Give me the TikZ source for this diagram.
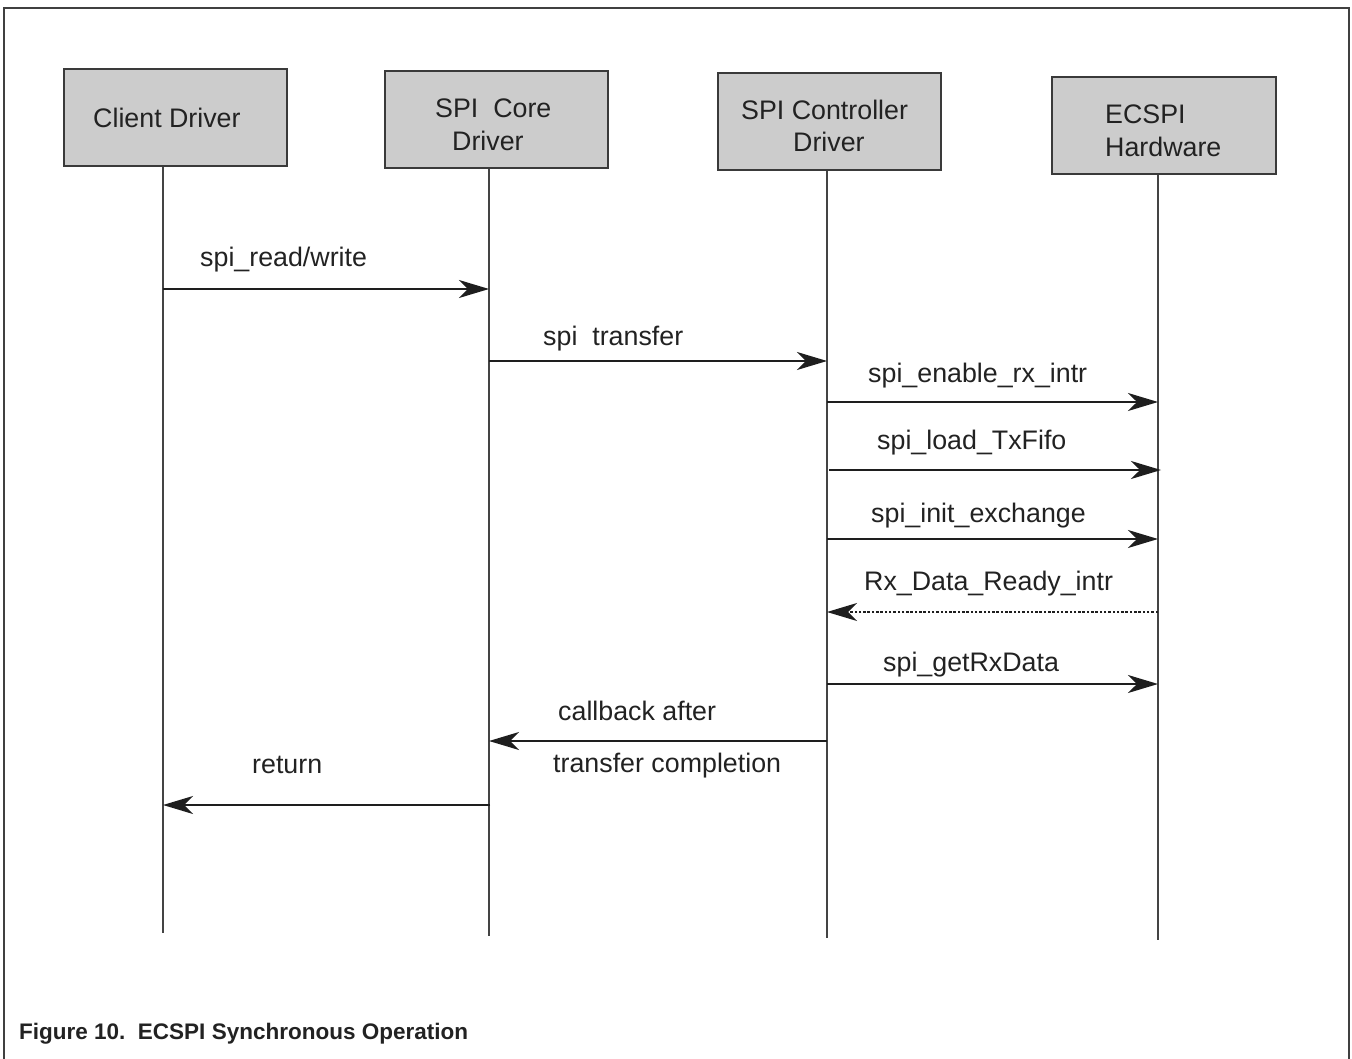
\documentclass[tikz,border=0pt]{standalone}
\usepackage{fontspec}
\setmainfont{Liberation Sans}
\usetikzlibrary{arrows.meta}
\definecolor{boxfill}{HTML}{CCCCCC}
\definecolor{boxline}{HTML}{3A3A3A}
\definecolor{frameline}{HTML}{404040}
\definecolor{txt}{HTML}{222222}
\definecolor{arrowc}{HTML}{1E1E1E}
\definecolor{lifec}{HTML}{444444}
\tikzset{
  actorbox/.style={draw=boxline, fill=boxfill, line width=2.2pt, minimum width=223pt, minimum height=97pt, inner sep=0pt},
  lbl/.style={anchor=base west, inner sep=0pt, text=txt, font=\fontsize{26.8}{31}\selectfont},
  life/.style={draw=lifec, line width=1.8pt},
  msg/.style={draw=arrowc, line width=1.8pt, -{Stealth[length=30pt, width=18pt, inset=9pt]}},
  reply/.style={draw=arrowc, line width=1.3pt, dash pattern=on 2.5pt off 1.8pt, -{Stealth[length=30pt, width=18pt, inset=9pt]}},
}
\begin{document}
\begin{tikzpicture}[x=1pt, y=-1pt]
\useasboundingbox (0,0) rectangle (1352,1059);
% frame (open at bottom)
\draw[frameline, line width=2.6pt] (4,1059) -- (4,8) -- (1349,8) -- (1349,1059);

% actor boxes
\node[actorbox] (b1) at (175.5,117.5) {};
\node[actorbox] (b2) at (496.5,119.5) {};
\node[actorbox] (b3) at (829.5,121.5) {};
\node[actorbox, minimum width=224pt] (b4) at (1164,125.5) {};

% box texts
\node[lbl] (t1) at (93,128) {Client Driver};
\node[lbl] (t2a) at (435,118) {SPI\ \ Core};
\node[lbl] (t2b) at (452,151) {Driver};
\node[lbl] (t3a) at (741,120) {SPI Controller};
\node[lbl] (t3b) at (793,152) {Driver};
\node[lbl] (t4a) at (1105,124) {ECSPI};
\node[lbl] (t4b) at (1105,157) {Hardware};

% lifeline ends
\coordinate (l1) at (163,933);
\coordinate (l2) at (489,936);
\coordinate (l3) at (827,938);
\coordinate (l4) at (1158,940);
\draw[life] (b1.south -| l1) -- (l1);
\draw[life] (b2.south -| l2) -- (l2);
\draw[life] (b3.south -| l3) -- (l3);
\draw[life] (b4.south -| l4) -- (l4);

% message end points
\coordinate (m1s) at (163,289);  \coordinate (m1e) at (489,289);
\coordinate (m2s) at (489,361);  \coordinate (m2e) at (827,361);
\coordinate (m3s) at (827,402);  \coordinate (m3e) at (1158,402);
\coordinate (m4s) at (829,470);  \coordinate (m4e) at (1161,470);
\coordinate (m5s) at (827,539);  \coordinate (m5e) at (1158,539);
\coordinate (m6s) at (1158,612); \coordinate (m6e) at (827,612);
\coordinate (m7s) at (827,684);  \coordinate (m7e) at (1158,684);
\coordinate (m8s) at (827,741);  \coordinate (m8e) at (489,741);
\coordinate (m9s) at (490,805);  \coordinate (m9e) at (163,805);

\draw[msg] (m1s) -- (m1e);
\draw[msg] (m2s) -- (m2e);
\draw[msg] (m3s) -- (m3e);
\draw[msg] (m4s) -- (m4e);
\draw[msg] (m5s) -- (m5e);
\draw[reply] (m6s) -- (m6e);
\draw[msg] (m7s) -- (m7e);
\draw[msg] (m8s) -- (m8e);
\draw[msg] (m9s) -- (m9e);

% message labels
\node[lbl] (k1) at (200,267) {spi\_read/write};
\node[lbl] (k2) at (543,345) {spi\ \ transfer};
\node[lbl] (k3) at (868,382) {spi\_enable\_rx\_intr};
\node[lbl] (k4) at (877,449) {spi\_load\_TxFifo};
\node[lbl] (k5) at (871,522) {spi\_init\_exchange};
\node[lbl] (k6) at (864,590) {Rx\_Data\_Ready\_intr};
\node[lbl] (k7) at (883,671) {spi\_getRxData};
\node[lbl] (k8a) at (558,720) {callback after};
\node[lbl] (k8b) at (553,772) {transfer completion};
\node[lbl] (k9) at (252,773) {return};

% caption
\node[anchor=base west, inner sep=0pt, text=txt, font=\fontsize{22.5}{26}\selectfont\bfseries] (cap) at (19,1039) {Figure 10.\ \ ECSPI Synchronous Operation};
\end{tikzpicture}
\end{document}
